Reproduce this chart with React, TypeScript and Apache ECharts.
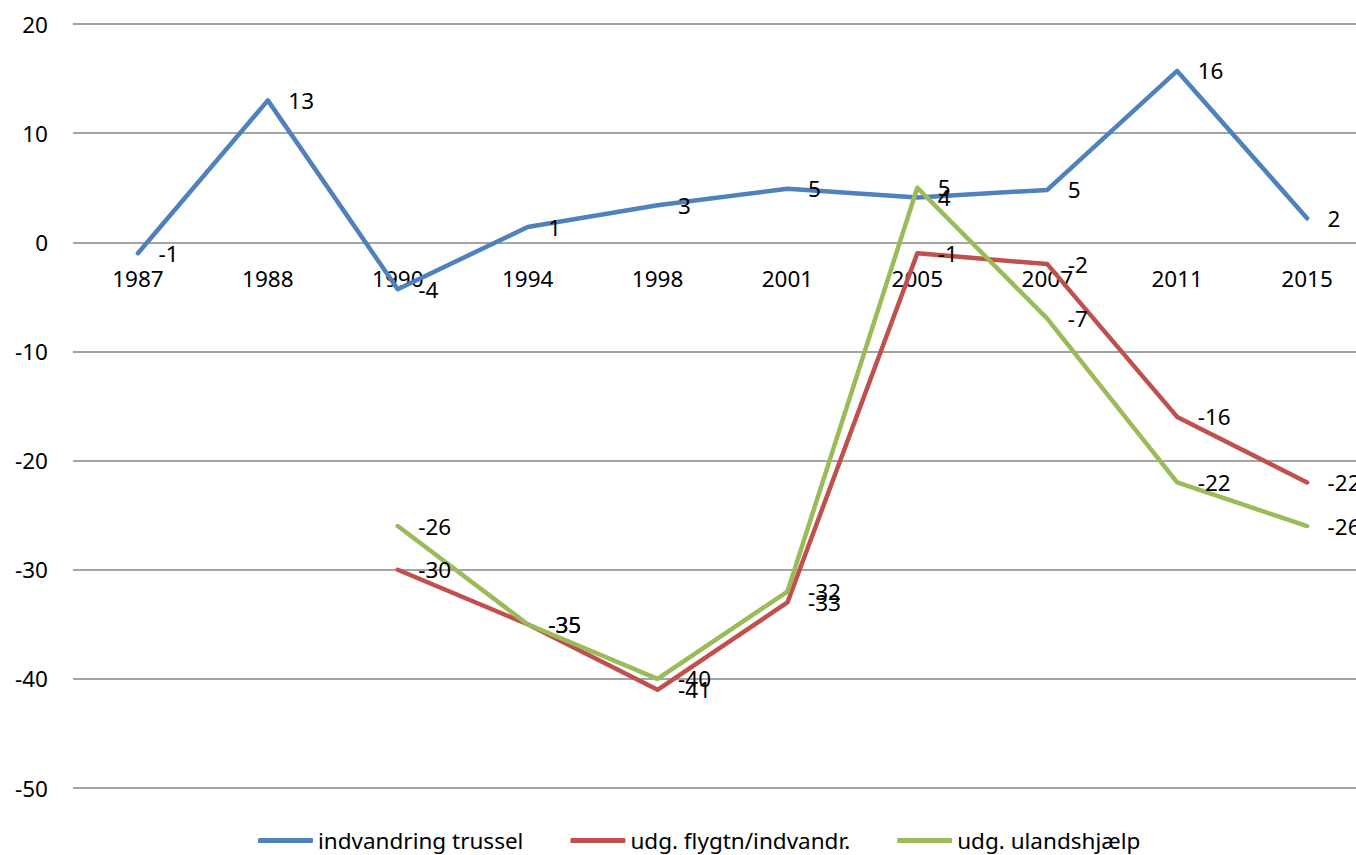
import React, { useEffect, useRef } from "react";
import * as echarts from "echarts";

const categories = ["1987", "1988", "1990", "1994", "1998", "2001", "2005", "2007", "2011", "2015"];
const seriesNames = ["indvandring trussel", "udg. flygtn/indvandr.", "udg. ulandshjælp"];
const indvandring = [-1, 13, -4.3, 1.4, 3.4, 4.9, 4.1, 4.8, 15.7, 2.2];
const flygtn = [null, null, -30, -35, -41, -33, -1, -2, -16, -22];
const ulandshjaelp = [null, null, -26, -35, -40, -32, 5, -7, -22, -26];
const colors = ["#4F81BD", "#C0504D", "#9BBB59"];

const FONT = "'Noto Sans', 'Open Sans', sans-serif";
const FS = 22.5;

export default function App() {
  const ref = useRef<HTMLDivElement>(null);
  useEffect(() => {
    if (!ref.current) return;
    const chart = echarts.init(ref.current, undefined, { renderer: "svg" });
    const mk = (name: string, data: (number | null)[], color: string) => ({
      name,
      type: "line",
      data,
      symbol: "circle",
      symbolSize: 1,
      showSymbol: true,
      connectNulls: false,
      lineStyle: { color, width: 4.5, cap: "round", join: "round" },
      itemStyle: { color, opacity: 1 },
      label: {
        show: true,
        position: "right",
        distance: 20,
        offset: [2, 3],
        color: "#000",
        opacity: 1,
        fontSize: FS,
        fontFamily: FONT,
        formatter: (p: any) => String(Math.round(p.value)),
      },
      labelLayout: { hideOverlap: false },
    });
    chart.setOption({
      animation: false,
      color: colors,
      grid: { left: 73, top: 24, width: 1299, height: 764, containLabel: false },
      xAxis: {
        type: "category",
        data: categories,
        boundaryGap: true,
        axisLine: { show: false },
        axisTick: { show: false },
        axisLabel: { color: "#000", fontSize: FS, fontFamily: FONT, margin: -521, interval: 0 },
        splitLine: { show: false },
      },
      yAxis: {
        type: "value",
        min: -50,
        max: 20,
        interval: 10,
        axisLine: { show: false },
        axisTick: { show: false },
        axisLabel: { color: "#000", fontSize: FS, fontFamily: FONT, margin: 25 },
        splitLine: { show: true, lineStyle: { color: "#868686", width: 1.5 } },
      },
      legend: {
        left: 258,
        top: 829,
        padding: 0,
        itemWidth: 55,
        itemHeight: 5,
        itemGap: 47,
        icon: "roundRect",
        itemStyle: { opacity: 1 },
        textStyle: { color: "#000", fontSize: FS, fontFamily: FONT },
        data: seriesNames,
      },
      series: [
        mk(seriesNames[0], indvandring, colors[0]),
        mk(seriesNames[1], flygtn, colors[1]),
        mk(seriesNames[2], ulandshjaelp, colors[2]),
      ],
    });
    return () => chart.dispose();
  }, []);
  return (
    <div style={{ position: "fixed", left: 0, top: 0, width: 1356, height: 855, overflow: "hidden", background: "#fff" }}>
      <div ref={ref} style={{ width: 1400, height: 855 }} />
    </div>
  );
}
